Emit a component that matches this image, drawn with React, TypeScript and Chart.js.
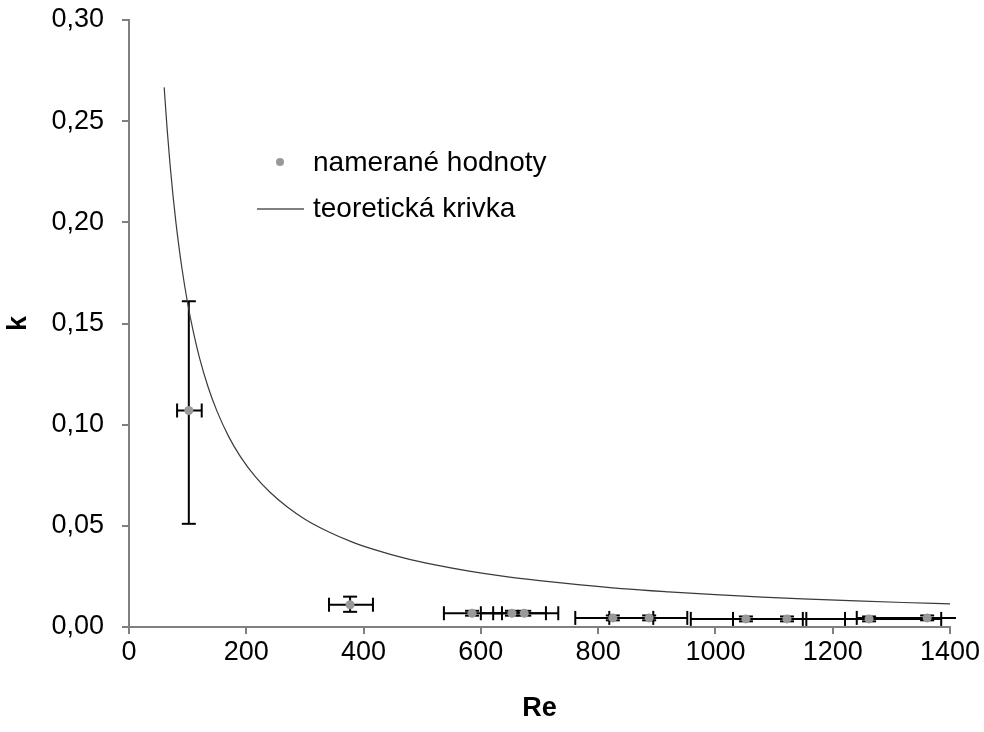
import React, { useEffect, useRef } from 'react';
import { Chart, registerables } from 'chart.js';

Chart.register(...registerables);

// measured values (Re, k) with error ranges
const measuredRe = [102, 377, 585, 653, 674, 825, 887, 1052, 1122, 1262, 1361];
const measuredK = [0.107, 0.011, 0.0068, 0.0068, 0.0068, 0.0045, 0.0045, 0.004, 0.004, 0.004, 0.0045];
const reLow = [82, 341, 537, 600, 621, 761, 819, 958, 1030, 1155, 1241];
const reHigh = [124, 416, 636, 711, 732, 894, 952, 1149, 1221, 1385, 1483];
const kLow = [0.051, 0.0075, 0.0056, 0.0056, 0.0056, 0.0033, 0.0033, 0.0028, 0.0028, 0.0028, 0.0033];
const kHigh = [0.161, 0.015, 0.008, 0.008, 0.008, 0.0057, 0.0057, 0.0052, 0.0052, 0.0052, 0.0057];

// theoretical curve
const curveRe = [60, 65, 70, 75, 80, 90, 100, 110, 120, 135, 150, 170, 190, 215, 240, 270, 300, 340, 380, 420, 470, 520, 580, 640, 700, 770, 840, 920, 1000, 1080, 1160, 1240, 1320, 1400];
const curveK = [0.2667, 0.2462, 0.2286, 0.2133, 0.2, 0.1778, 0.16, 0.1455, 0.1333, 0.1185, 0.1067, 0.0941, 0.0842, 0.0744, 0.0667, 0.0593, 0.0533, 0.0471, 0.0421, 0.0381, 0.034, 0.0308, 0.0276, 0.025, 0.0229, 0.0208, 0.019, 0.0174, 0.016, 0.0148, 0.0138, 0.0129, 0.0121, 0.0114];

const legendLabels = ['nameran\u00e9 hodnoty', 'teoretick\u00e1 krivka'];
const xTitle = 'Re';
const yTitle = 'k';

const FONT = '"Liberation Sans", Arial, sans-serif';

const errorBarsPlugin = {
  id: 'errorBars',
  beforeDatasetsDraw(chart: any) {
    const { ctx, chartArea, scales } = chart;
    const x = scales.x;
    const y = scales.y;
    ctx.save();
    ctx.beginPath();
    ctx.rect(chartArea.left, chartArea.top - 10, chartArea.right - chartArea.left + 6, chartArea.bottom - chartArea.top + 20);
    ctx.clip();
    ctx.strokeStyle = '#000';
    ctx.lineWidth = 2;
    const cap = 7;
    const seg = (a: number, b: number, c: number, d: number) => {
      ctx.beginPath();
      ctx.moveTo(a, b);
      ctx.lineTo(c, d);
      ctx.stroke();
    };
    for (let i = 0; i < measuredRe.length; i++) {
      const px = x.getPixelForValue(measuredRe[i]);
      const py = y.getPixelForValue(measuredK[i]);
      const x0 = x.getPixelForValue(reLow[i]);
      const x1 = x.getPixelForValue(reHigh[i]);
      const y0 = y.getPixelForValue(kLow[i]);
      const y1 = y.getPixelForValue(kHigh[i]);
      seg(x0, py, x1, py);
      seg(x0, py - cap, x0, py + cap);
      seg(x1, py - cap, x1, py + cap);
      seg(px, y0, px, y1);
      seg(px - cap, y0, px + cap, y0);
      seg(px - cap, y1, px + cap, y1);
    }
    ctx.restore();
  },
};

const legendPlugin = {
  id: 'innerLegend',
  afterDraw(chart: any) {
    const { ctx } = chart;
    ctx.save();
    ctx.font = `28px ${FONT}`;
    ctx.textBaseline = 'middle';
    ctx.textAlign = 'left';
    ctx.beginPath();
    ctx.fillStyle = '#999999';
    ctx.arc(280, 162, 4, 0, Math.PI * 2);
    ctx.fill();
    ctx.fillStyle = '#000';
    ctx.fillText(legendLabels[0], 313, 163);
    ctx.strokeStyle = '#808080';
    ctx.lineWidth = 2;
    ctx.beginPath();
    ctx.moveTo(257, 209);
    ctx.lineTo(304, 209);
    ctx.stroke();
    ctx.fillText(legendLabels[1], 313, 209);
    ctx.restore();
  },
};

export default function App() {
  const ref = useRef<HTMLCanvasElement>(null);
  useEffect(() => {
    if (!ref.current) return;
    const tickFont = { family: FONT, size: 27 };
    const chart = new Chart(ref.current, {
      type: 'scatter',
      data: {
        datasets: [
          {
            type: 'scatter',
            label: legendLabels[0],
            data: measuredRe.map((r, i) => ({ x: r, y: measuredK[i] })),
            backgroundColor: '#999999',
            borderWidth: 0,
            pointRadius: 4.5,
          },
          {
            type: 'line',
            label: legendLabels[1],
            data: curveRe.map((r, i) => ({ x: r, y: curveK[i] })),
            borderColor: '#3a3a3a',
            borderWidth: 1.2,
            pointRadius: 0,
            fill: false,
            cubicInterpolationMode: 'monotone',
          } as any,
        ],
      },
      options: {
        animation: false,
        responsive: false,
        devicePixelRatio: 1,
        layout: { padding: { left: 0, top: 20, right: 34, bottom: 0 } },
        plugins: { legend: { display: false }, tooltip: { enabled: false } },
        scales: {
          x: {
            type: 'linear',
            min: 0,
            max: 1400,
            ticks: { stepSize: 200, font: tickFont, color: '#000', padding: 2, maxRotation: 0, callback: (v: any) => String(Math.round(Number(v))) },
            grid: { drawOnChartArea: false, tickLength: 7, color: '#808080', lineWidth: 2 },
            border: { color: '#808080', width: 2 },
            title: { display: true, text: xTitle, color: '#000', font: { family: FONT, size: 27, weight: 'bold' }, padding: { top: 0, bottom: 7 } },
            afterFit: (s: any) => { s.height = 105; s.paddingLeft = 0; s.paddingRight = 0; },
          },
          y: {
            type: 'linear',
            min: 0,
            max: 0.3,
            ticks: {
              stepSize: 0.05,
              font: tickFont,
              color: '#000',
              padding: 18,
              callback: (v: any) => Number(v).toFixed(2).replace('.', ','),
            },
            grid: { drawOnChartArea: false, tickLength: 7, color: '#808080', lineWidth: 2 },
            border: { color: '#808080', width: 2 },
            title: { display: true, text: yTitle, color: '#000', font: { family: FONT, size: 27, weight: 'bold' }, padding: { top: 2, bottom: 0 } },
            afterFit: (s: any) => { s.width = 129; s.paddingTop = 0; s.paddingBottom = 0; },
          },
        },
      } as any,
      plugins: [errorBarsPlugin, legendPlugin],
    });
    return () => chart.destroy();
  }, []);
  return (
    <div style={{ position: 'absolute', left: 0, top: 0, width: 984, height: 732, background: '#fff' }}>
      <canvas ref={ref} width={984} height={732} />
    </div>
  );
}
